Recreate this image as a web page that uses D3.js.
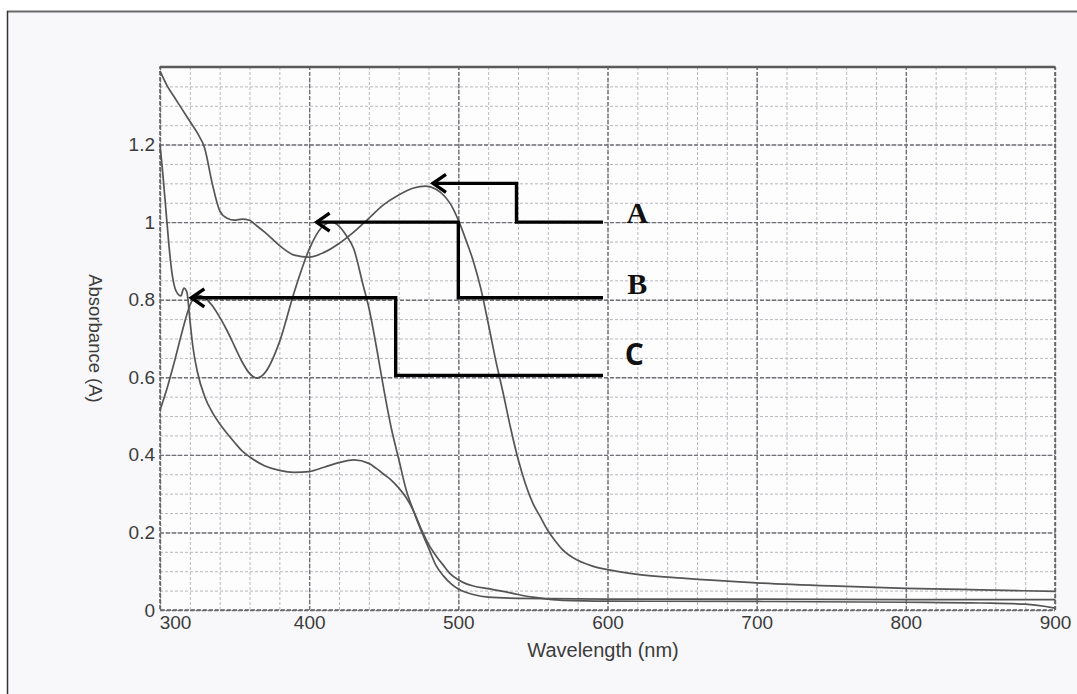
<!DOCTYPE html>
<html>
<head>
	<title>Absorbance spectra</title>
	<script src="https://cdn.jsdelivr.net/npm/d3@7"></script>
	<style>
		body { margin: 0; background: #ffffff; }
		text { font-family: "Liberation Sans", Arial, sans-serif; }
	</style>
</head>
<body>
<div id="vis"></div>
<script type="text/javascript">
// spectra: [wavelength nm, absorbance]
var curveA = [[300,1.39],[305,1.35],[310,1.32],[315,1.29],[320,1.26],[325,1.23],[330,1.19],[335,1.10],[340,1.03],[345,1.01],[350,1.005],[355,1.008],[360,1.005],[365,0.99],[370,0.975],[380,0.94],[390,0.915],[400,0.91],[410,0.922],[420,0.945],[430,0.975],[440,1.01],[450,1.045],[460,1.07],[470,1.088],[478,1.093],[485,1.085],[490,1.07],[495,1.045],[500,1.005],[505,0.955],[510,0.90],[515,0.83],[520,0.74],[525,0.645],[530,0.56],[535,0.47],[540,0.39],[545,0.325],[550,0.275],[555,0.24],[560,0.205],[565,0.178],[570,0.155],[580,0.128],[590,0.113],[600,0.104],[620,0.092],[650,0.082],[700,0.07],[750,0.062],[800,0.056],[850,0.052],[900,0.048]];
var curveB = [[300,0.515],[305,0.575],[310,0.645],[315,0.72],[320,0.785],[325,0.812],[330,0.805],[335,0.785],[340,0.755],[345,0.72],[350,0.68],[355,0.64],[360,0.61],[365,0.598],[370,0.61],[380,0.69],[390,0.82],[400,0.93],[408,0.985],[415,1.0],[420,0.99],[425,0.965],[430,0.93],[436,0.84],[440,0.78],[445,0.68],[450,0.57],[455,0.47],[460,0.39],[465,0.31],[470,0.255],[475,0.205],[480,0.16],[485,0.115],[490,0.088],[495,0.068],[500,0.054],[510,0.04],[520,0.033],[540,0.03],[600,0.028],[700,0.028],[800,0.027],[900,0.027]];
var curveC = [[300,1.2],[302,1.12],[304,1.03],[306,0.94],[308,0.87],[310,0.83],[312,0.815],[314,0.81],[316,0.83],[318,0.82],[320,0.75],[322,0.68],[325,0.615],[330,0.55],[335,0.51],[340,0.48],[345,0.455],[350,0.432],[355,0.41],[360,0.395],[370,0.372],[380,0.36],[390,0.355],[400,0.357],[410,0.368],[420,0.38],[430,0.387],[440,0.378],[445,0.365],[450,0.35],[455,0.335],[460,0.315],[465,0.29],[470,0.255],[475,0.21],[480,0.17],[485,0.14],[490,0.115],[495,0.092],[500,0.078],[505,0.068],[510,0.062],[520,0.055],[530,0.048],[540,0.04],[550,0.033],[560,0.028],[570,0.025],[600,0.023],[700,0.022],[800,0.02],[850,0.018],[880,0.015],[900,0.005]];

// annotation arrows (tip first) and their letters
var arrowA = [[483,1.1],[539,1.1],[539,1.0],[597,1.0]];
var arrowB = [[405,1.0],[500,1.0],[500,0.805],[597,0.805]];
var arrowC = [[321,0.805],[458,0.805],[458,0.605],[597,0.605]];
var letters = ['A','B','C'];
var letterPos = [[620,0.998],[620,0.815],[618,0.632]];

var xTicks = [300,400,500,600,700,800,900];
var yTicks = [0,0.2,0.4,0.6,0.8,1,1.2];
var xMinor = d3.range(300, 901, 20);
var yMinor = d3.range(0, 1.401, 0.05);

var W = 1077, H = 694;
var m = {top: 67, left: 160, right: 22, bottom: 84};
var pw = W - m.left - m.right, ph = H - m.top - m.bottom;

var svg = d3.select('#vis').append('svg').attr('width', W).attr('height', H);
svg.append('rect').attr('x', 8).attr('y', 12).attr('width', W - 8).attr('height', H - 12).attr('fill', '#f8f8fb');
svg.append('line').attr('x1', 7).attr('x2', W).attr('y1', 11.5).attr('y2', 11.5).attr('stroke', '#6a6a6a').attr('stroke-width', 2);
svg.append('line').attr('x1', 7.5).attr('x2', 7.5).attr('y1', 11).attr('y2', H).attr('stroke', '#333').attr('stroke-width', 1.5);

var g = svg.append('g').attr('transform', 'translate(' + m.left + ',' + m.top + ')');
var x = d3.scaleLinear().domain([300, 900]).range([0, pw]);
var y = d3.scaleLinear().domain([0, 1.4]).range([ph, 0]);

g.append('rect').attr('width', pw).attr('height', ph).attr('fill', '#fdfdfe');

// grid: minor then major
function grid(axis, cls, col, dash, sw, tr){
	var a = g.append('g').attr('class', cls).attr('transform', tr || null).call(axis);
	a.select('.domain').remove();
	a.selectAll('text').remove();
	a.selectAll('line').attr('stroke', col).attr('stroke-dasharray', dash).attr('stroke-width', sw);
}
grid(d3.axisBottom(x).tickValues(xMinor).tickSize(-ph), 'gx-minor', '#b8b8be', '3,2', 1, 'translate(0,' + ph + ')');
grid(d3.axisLeft(y).tickValues(yMinor).tickSize(-pw), 'gy-minor', '#b8b8be', '3,2', 1);
grid(d3.axisBottom(x).tickValues(xTicks).tickSize(-ph), 'gx-major', '#707075', '4,2', 1.4, 'translate(0,' + ph + ')');
grid(d3.axisLeft(y).tickValues(yTicks).tickSize(-pw), 'gy-major', '#707075', '4,2', 1.4);

// frame
g.append('rect').attr('width', pw).attr('height', ph).attr('fill', 'none')
	.attr('stroke', '#666').attr('stroke-width', 1.6).attr('stroke-dasharray', '4,2');
g.append('line').attr('x1', 0).attr('x2', pw).attr('y1', 0).attr('y2', 0).attr('stroke', '#5a5a5a').attr('stroke-width', 2.4);

// tick labels
var xa = g.append('g').attr('transform', 'translate(0,' + ph + ')')
	.call(d3.axisBottom(x).tickValues(xTicks).tickSize(0).tickPadding(6).tickFormat(d3.format('d')));
xa.select('.domain').remove();
xa.selectAll('text').attr('font-size', 19).attr('fill', '#3c3c3c').style('font-family', '"Liberation Sans", Arial, sans-serif')
	.attr('dx', function(d){ return d == 300 ? 15 : 0; });
var ya = g.append('g')
	.call(d3.axisLeft(y).tickValues(yTicks).tickSize(0).tickPadding(5).tickFormat(function(d){ return d3.format('~g')(d); }));
ya.select('.domain').remove();
ya.selectAll('text').attr('font-size', 19).attr('fill', '#3c3c3c').style('font-family', '"Liberation Sans", Arial, sans-serif');

g.append('text').attr('x', x(597)).attr('y', ph + 47).attr('text-anchor', 'middle')
	.attr('font-size', 20).attr('fill', '#3c3c3c').text('Wavelength (nm)');
g.append('text').attr('transform', 'translate(' + (-71) + ',' + (ph / 2) + ') rotate(90)').attr('text-anchor', 'middle')
	.attr('font-size', 18.5).attr('fill', '#3c3c3c').text('Absorbance (A)');

// spectra
var line = d3.line().x(function(d){ return x(d[0]); }).y(function(d){ return y(d[1]); }).curve(d3.curveMonotoneX);
g.selectAll('path.spec').data([curveA, curveB, curveC]).enter().append('path').attr('class', 'spec')
	.attr('d', line).attr('fill', 'none').attr('stroke', '#555').attr('stroke-width', 1.7);

// arrows
svg.append('defs').append('marker').attr('id', 'chev').attr('markerUnits', 'userSpaceOnUse')
	.attr('markerWidth', 34).attr('markerHeight', 34).attr('refX', 17).attr('refY', 17).attr('orient', 'auto-start-reverse')
	.append('path').attr('d', 'M4,8 L17,17 L4,26').attr('fill', 'none').attr('stroke', '#000').attr('stroke-width', 3.4);
var aline = d3.line().x(function(d){ return x(d[0]); }).y(function(d){ return y(d[1]); });
g.selectAll('path.arrow').data([arrowA, arrowB, arrowC]).enter().append('path').attr('class', 'arrow')
	.attr('d', aline).attr('fill', 'none').attr('stroke', '#000').attr('stroke-width', 3.4)
	.attr('marker-start', 'url(#chev)');

var fonts = ['"Liberation Serif", "Times New Roman", serif', '"Liberation Serif", "Times New Roman", serif', '"Open Sans", "Liberation Sans", sans-serif'];
g.selectAll('text.lbl').data(letters).enter().append('text').attr('class', 'lbl')
	.attr('x', function(d, i){ return x(letterPos[i][0]); })
	.attr('y', function(d, i){ return y(letterPos[i][1]); })
	.attr('text-anchor', 'middle').attr('font-size', 30).attr('font-weight', 'bold').attr('fill', '#111')
	.style('font-family', function(d, i){ return fonts[i]; })
	.text(function(d){ return d; });
</script>
</body>
</html>
